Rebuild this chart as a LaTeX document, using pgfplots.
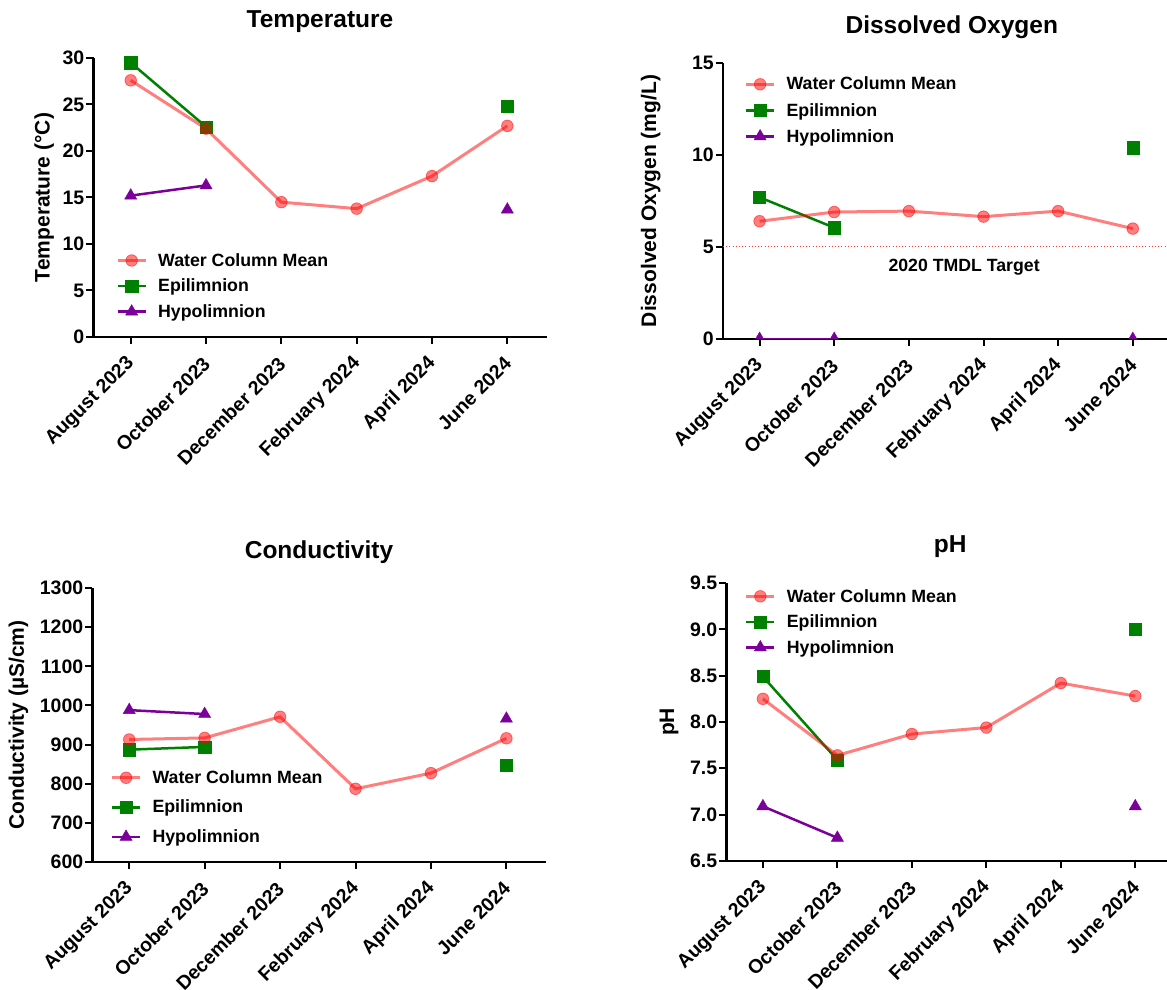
\documentclass[border=0pt]{standalone}
\usepackage{fontspec}
\setmainfont{Liberation Sans}
\usepackage{pgfplots}
\pgfplotsset{compat=1.18}
\definecolor{meanred}{RGB}{255,0,0}
\definecolor{epigreen}{RGB}{0,128,0}
\definecolor{hypopurple}{RGB}{122,0,153}
\newcommand{\ft}[1]{\fontsize{#1}{#1}\selectfont\bfseries}

\pgfplotsset{
 panel/.style={
  scale only axis,
  anchor=south west,
  axis x line*=bottom, axis y line*=left,
  axis line style={line width=2.2pt, -},
  tick align=outside,
  major tick length=7pt,
  tick style={line width=2pt, black},
  xtick={0,...,5},
  xticklabels={August 2023, October 2023, December 2023, February 2024, April 2024, June 2024},
  xticklabel style={xshift=2pt, yshift=-15pt, rotate=45, anchor=east, inner sep=2pt, font=\ft{19.5}},
  yticklabel style={font=\ft{19.5}, inner sep=2pt},
  /pgf/number format/assume math mode=true,
  /pgf/number format/1000 sep={},
  ylabel style={font=\ft{21}},
  title style={font=\ft{24.5}, anchor=center, yshift=30pt},
  unbounded coords=jump,
  legend style={draw=none, fill=none, anchor=north west, font=\ft{17.75},
    /tikz/every odd column/.append style={column sep=9pt}},
  legend cell align=left,
  legend image code/.code={\draw[mark repeat=2,mark phase=2] plot coordinates {(0pt,0pt) (14pt,0pt) (28pt,0pt)};},
 },
 meanst/.style={color=meanred, opacity=0.5, line width=3pt, mark=*, mark size=5.8pt, mark options={solid, line width=0.8pt}},
 epist/.style={color=epigreen, line width=2.5pt, mark=square*, mark size=6.1pt, mark options={solid, line width=0.4pt}},
 hypost/.style={color=hypopurple, line width=2.5pt, mark=triangle*, mark size=7pt, mark options={solid, line width=0.4pt}},
}

\begin{document}
\begin{tikzpicture}
\useasboundingbox (0,0) rectangle (1167pt,990pt);
\clip (0,0) rectangle (1167pt,990pt);

% Temperature
\begin{axis}[panel, at={(93.5pt,653pt)}, width=453pt, height=279pt,
  xmin=-0.494, xmax=5.52, ymin=0, ymax=30, ytick={0,5,...,30},
  title={Temperature}, title style={at={(axis description cs:0.5,1)}},
  ylabel={Temperature (°C)}, ylabel shift=3pt,
  legend style={at={(0.043,0.315)}, row sep=7.2pt}]
\addlegendimage{meanst}\addlegendentry{Water Column Mean}
\addlegendimage{epist}\addlegendentry{Epilimnion}
\addlegendimage{hypost}\addlegendentry{Hypolimnion}
\addplot[epist, forget plot] coordinates {(0,29.5) (1,22.6) (2,nan) (3,nan) (4,nan) (5,24.8)};
\addplot[hypost, forget plot] coordinates {(0,15.2) (1,16.3) (2,nan) (3,nan) (4,nan) (5,13.7)};
\addplot[meanst, forget plot] coordinates {(0,27.6) (1,22.4) (2,14.5) (3,13.8) (4,17.3) (5,22.7)};
\end{axis}

% Dissolved Oxygen
\begin{axis}[panel, at={(723pt,651pt)}, width=448.6pt, height=276pt,
  xmin=-0.49, xmax=5.52, ymin=0, ymax=15, ytick={0,5,10,15},
  clip marker paths=true,
  title={Dissolved Oxygen}, title style={at={(axis description cs:0.51,1)}},
  ylabel={Dissolved Oxygen (mg/L)}, ylabel shift=26pt,
  legend style={at={(0.041,0.964)}, row sep=7.7pt}]
\addlegendimage{meanst}\addlegendentry{Water Column Mean}
\addlegendimage{epist}\addlegendentry{Epilimnion}
\addlegendimage{hypost}\addlegendentry{Hypolimnion}
\addplot[color=meanred!80, line width=1pt, dash pattern=on 1pt off 2.2pt, forget plot] coordinates {(-0.49,5) (5.52,5)};
\node[font=\ft{17.7}] at (axis cs:2.74,3.9) {2020 TMDL Target};
\addplot[epist, forget plot] coordinates {(0,7.7) (1,6.05) (2,nan) (3,nan) (4,nan) (5,10.4)};
\addplot[hypost, forget plot] coordinates {(0,0) (1,0) (2,nan) (3,nan) (4,nan) (5,0)};
\addplot[meanst, forget plot] coordinates {(0,6.4) (1,6.9) (2,6.95) (3,6.65) (4,6.95) (5,6.0)};
\end{axis}

% Conductivity
\begin{axis}[panel, at={(92.4pt,128pt)}, width=453.2pt, height=274pt,
  xmin=-0.488, xmax=5.52, ymin=600, ymax=1300, ytick={600,700,...,1300},
  title={Conductivity}, title style={at={(axis description cs:0.5,1)}},
  ylabel={Conductivity (µS/cm)}, ylabel shift=6pt,
  legend style={at={(0.033,0.349)}, row sep=11.2pt}]
\addlegendimage{meanst}\addlegendentry{Water Column Mean}
\addlegendimage{epist}\addlegendentry{Epilimnion}
\addlegendimage{hypost}\addlegendentry{Hypolimnion}
\addplot[epist, forget plot] coordinates {(0,887) (1,894) (2,nan) (3,nan) (4,nan) (5,847)};
\addplot[hypost, forget plot] coordinates {(0,988) (1,978) (2,nan) (3,nan) (4,nan) (5,966)};
\addplot[meanst, forget plot] coordinates {(0,913) (1,917) (2,971) (3,787) (4,827) (5,916)};
\end{axis}

% pH
\begin{axis}[panel, at={(726.4pt,129pt)}, width=447.6pt, height=278pt,
  xmin=-0.49, xmax=5.52, ymin=6.5, ymax=9.5, ytick={6.5,7,...,9.5},
  yticklabel style={/pgf/number format/.cd, fixed, fixed zerofill, precision=1},
  title={pH}, title style={at={(axis description cs:0.5,1)}},
  ylabel={pH}, ylabel shift=6pt,
  legend style={at={(0.034,0.993)}, row sep=7.2pt}]
\addlegendimage{meanst}\addlegendentry{Water Column Mean}
\addlegendimage{epist}\addlegendentry{Epilimnion}
\addlegendimage{hypost}\addlegendentry{Hypolimnion}
\addplot[epist, forget plot] coordinates {(0,8.49) (1,7.59) (2,nan) (3,nan) (4,nan) (5,9.0)};
\addplot[hypost, forget plot] coordinates {(0,7.09) (1,6.75) (2,nan) (3,nan) (4,nan) (5,7.09)};
\addplot[meanst, forget plot] coordinates {(0,8.25) (1,7.64) (2,7.87) (3,7.94) (4,8.42) (5,8.28)};
\end{axis}
\end{tikzpicture}
\end{document}
